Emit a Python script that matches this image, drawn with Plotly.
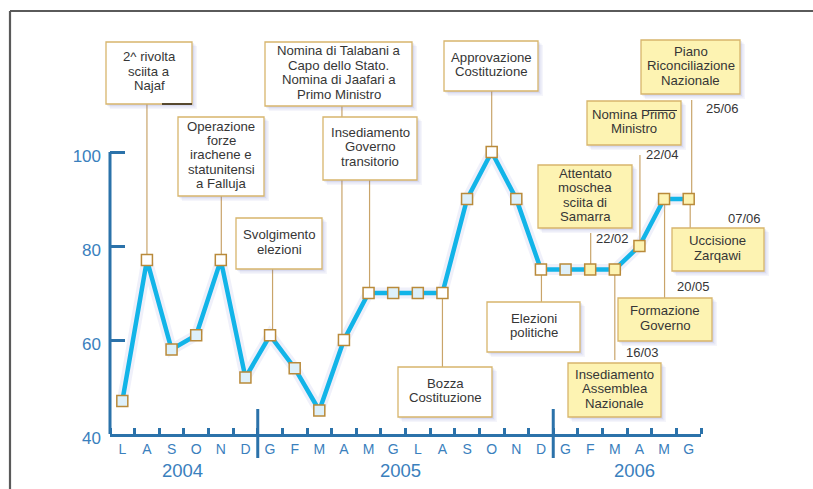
import plotly.graph_objects as go

# ---------------- data ----------------
months = ['L', 'A', 'S', 'O', 'N', 'D',
          'G', 'F', 'M', 'A', 'M', 'G', 'L', 'A', 'S', 'O', 'N', 'D',
          'G', 'F', 'M', 'A', 'M', 'G']
years = ['2004', '2005', '2006']
values = [47, 77, 58, 61, 77, 52,
          61, 54, 45, 60, 70, 70, 70, 70, 90, 100, 90, 75,
          75, 75, 75, 80, 90, 90]
y_ticks = [40, 60, 80, 100]

event_text = [
    "2^ rivolta\nsciita a\nNajaf",
    "Operazione\nforze\nirachene e\nstatunitensi\na Falluja",
    "Svolgimento\nelezioni",
    "Nomina di Talabani a\nCapo dello Stato.\nNomina di Jaafari a\nPrimo Ministro",
    "Insediamento\nGoverno\ntransitorio",
    "Approvazione\nCostituzione",
    "Bozza\nCostituzione",
    "Elezioni\npolitiche",
    "Attentato\nmoschea\nsciita di\nSamarra",
    "Insediamento\nAssemblea\nNazionale",
    "Nomina Primo\nMinistro",
    "Piano\nRiconciliazione\nNazionale",
    "Uccisione\nZarqawi",
    "Formazione\nGoverno",
]
event_month = [1, 4, 6, 9, 10, 15, 13, 17, 19, 20, 21, 23, 23, 22]
event_date = ['', '', '', '', '', '', '', '', '22/02', '16/03', '22/04', '25/06', '07/06', '20/05']
event_year2006 = [False] * 8 + [True] * 6

# ---------------- layout geometry (pixels) ----------------
W, H = 813, 489
X0, X1 = 110, 701          # x axis extent
Y_TOP, Y_BOT = 10, 434     # plot area top / x axis line
PX_PER_UNIT = (434 - 152) / 60.0
Y_MAX = 40 + (Y_BOT - Y_TOP) / PX_PER_UNIT
PX_PER_MONTH = (X1 - X0) / 24.0

box_px = [  # x0, x1, top, bottom
    (106, 192, 42, 104),
    (178, 264, 117, 196),
    (236, 322, 218, 269),
    (265, 412, 42, 106),
    (323, 417, 117, 180),
    (444, 538, 41, 91),
    (398, 492, 367, 417),
    (487, 580, 302, 352),
    (538, 632, 165, 228),
    (568, 661, 363, 417),
    (587, 681, 101, 145),
    (641, 740, 40, 94),
    (672, 764, 228, 271),
    (618, 712, 298, 341),
]
leader_dx = [0, 0.5, 2.5, -2, 1, 0, 0, 0.5, 0.5, 0, 0.5, 3, 1.5, 0.5]
leader_gap = [0, 0, 0, 0, 0, 0, 0, 0, 5, 3, 10, 6, 0, 0]
date_px = [None] * 8 + [(612, 238), (642, 352), (662, 155), (722, 108), (744, 218), (693, 286)]

AXIS = '#2b72aa'
TICKTXT = '#3a80bd'
LINE = '#12b4e8'
GOLD = '#b98a3a'
BOX_LINE = '#d7b56c'
YELLOW = '#fdf3b2'
LIGHTBLUE = '#def0fa'
TXT = '#363636'
LEADER = '#c9a46a'
FONT = 'Liberation Sans, Arial, sans-serif'


def px_x(px):
    return (px - X0) / (X1 - X0)


def px_y(py):
    return (Y_BOT - py) / (Y_BOT - Y_TOP)


def py_to_val(py):
    return 40 + (Y_BOT - py) / PX_PER_UNIT


# marker colours derived from events
fills = []
for i in range(len(values)):
    if i in event_month:
        k = event_month.index(i)
        fills.append(YELLOW if event_year2006[k] else 'white')
    else:
        fills.append(LIGHTBLUE)

x_idx = list(range(len(months)))

fig = go.Figure()
# soft shadow under line
fig.add_trace(go.Scatter(x=x_idx, y=values, mode='lines',
                         line=dict(color='rgba(180,185,230,0.22)', width=11),
                         hoverinfo='skip', showlegend=False))
fig.add_trace(go.Scatter(
    x=x_idx, y=values, mode='lines+markers',
    line=dict(color=LINE, width=4.5),
    marker=dict(symbol='square', size=11, color=fills,
                line=dict(color=GOLD, width=1.5)),
    showlegend=False))

shapes = []
annotations = []

# frame
shapes.append(dict(type='line', xref='paper', yref='paper',
                   x0=px_x(10), x1=px_x(W + 5), y0=px_y(11), y1=px_y(11),
                   line=dict(color='#5a5a5a', width=2.2)))
shapes.append(dict(type='line', xref='paper', yref='paper',
                   x0=px_x(10), x1=px_x(10), y0=px_y(11), y1=px_y(H + 5),
                   line=dict(color='#5a5a5a', width=2.2)))

# y axis line (40 -> 100)
shapes.append(dict(type='line', xref='paper', yref='y', x0=0, x1=0,
                   y0=y_ticks[0], y1=y_ticks[-1],
                   line=dict(color=AXIS, width=3)))
# year separators
for k in (5.5, 17.5):
    shapes.append(dict(type='line', xref='x', yref='paper', x0=k, x1=k,
                       y0=px_y(409), y1=px_y(458),
                       line=dict(color=AXIS, width=3)))

# leaders, shadows, boxes
for k, txt in enumerate(event_text):
    bx0, bx1, by0, by1 = box_px[k]
    m = event_month[k]
    v = values[m]
    xl = m + leader_dx[k] / PX_PER_MONTH
    point_py = Y_BOT - (v - 40) * PX_PER_UNIT
    if by1 < point_py:
        yend = py_to_val(by1 + leader_gap[k])
    else:
        yend = py_to_val(by0 - leader_gap[k])
    shapes.append(dict(type='line', xref='x', yref='y', x0=xl, x1=xl,
                       y0=v, y1=yend, layer='below',
                       line=dict(color=LEADER, width=1.2)))

for k, txt in enumerate(event_text):
    bx0, bx1, by0, by1 = box_px[k]
    for off, a in ((5, 0.07), (3.5, 0.10), (2, 0.12)):
        shapes.append(dict(type='rect', xref='paper', yref='paper',
                           x0=px_x(bx0 + off - 1), x1=px_x(bx1 + off),
                           y0=px_y(by0 + off - 1), y1=px_y(by1 + off),
                           line=dict(width=0),
                           fillcolor='rgba(110,120,200,%.2f)' % a))
    shapes.append(dict(type='rect', xref='paper', yref='paper',
                       x0=px_x(bx0), x1=px_x(bx1), y0=px_y(by0), y1=px_y(by1),
                       line=dict(color=BOX_LINE, width=1.3),
                       fillcolor=YELLOW if event_year2006[k] else 'white'))
    lines = txt.split('\n')
    n = len(lines)
    cy = (by0 + by1) / 2 - 1.5
    for j, ln in enumerate(lines):
        py = cy + (j - (n - 1) / 2) * 14.5
        annotations.append(dict(xref='paper', yref='paper',
                                x=px_x((bx0 + bx1) / 2), y=px_y(py),
                                text=ln, showarrow=False,
                                xanchor='center', yanchor='middle',
                                font=dict(family=FONT, size=13.2, color=TXT)))
    if date_px[k]:
        dx, dy = date_px[k]
        annotations.append(dict(xref='paper', yref='paper',
                                x=px_x(dx), y=px_y(dy), text=event_date[k],
                                showarrow=False, xanchor='center', yanchor='middle',
                                font=dict(family=FONT, size=13, color=TXT)))

# small dark print artefacts
shapes.append(dict(type='line', xref='paper', yref='paper',
                   x0=px_x(162), x1=px_x(192), y0=px_y(104), y1=px_y(104),
                   line=dict(color='#2a2010', width=1.5)))
shapes.append(dict(type='line', xref='paper', yref='paper',
                   x0=px_x(648), x1=px_x(677), y0=px_y(110.5), y1=px_y(110.5),
                   line=dict(color='#333333', width=1)))

# year labels
year_pos = [2.43, 11.28, 20.8]
for yl, xp in zip(years, year_pos):
    annotations.append(dict(xref='x', yref='paper', x=xp, y=px_y(470),
                            text=yl, showarrow=False, xanchor='center',
                            yanchor='middle',
                            font=dict(family=FONT, size=18.5, color=TICKTXT)))

fig.update_layout(
    width=W, height=H,
    margin=dict(l=X0, r=W - X1, t=Y_TOP, b=H - Y_BOT, pad=0),
    paper_bgcolor='white', plot_bgcolor='rgba(0,0,0,0)',
    shapes=shapes, annotations=annotations,
    xaxis=dict(range=[-0.5, 23.5], tickmode='array', tickvals=x_idx,
               ticktext=months, ticks='', showgrid=False, zeroline=False,
               showline=True, linecolor=AXIS, linewidth=3,
               tickfont=dict(family=FONT, size=14, color=TICKTXT),
               ticklabelstandoff=0,
               minor=dict(tickmode='array',
                          tickvals=[k - 0.5 for k in range(25)],
                          ticks='inside', ticklen=6, tickwidth=2.5,
                          tickcolor=AXIS, showgrid=False)),
    yaxis=dict(range=[40, Y_MAX], tickmode='array', tickvals=y_ticks,
               ticks='inside', ticklen=15, tickwidth=3, tickcolor=AXIS,
               showgrid=False, zeroline=False, showline=False,
               tickfont=dict(family=FONT, size=17, color=TICKTXT),
               ticklabelstandoff=8, ticklabelshift=4),
)

fig.write_html('out.html',
               config={'displayModeBar': False},
               post_script="document.body.style.margin='0';"
                           "document.body.style.padding='0';"
                           "document.body.style.overflow='hidden';")
